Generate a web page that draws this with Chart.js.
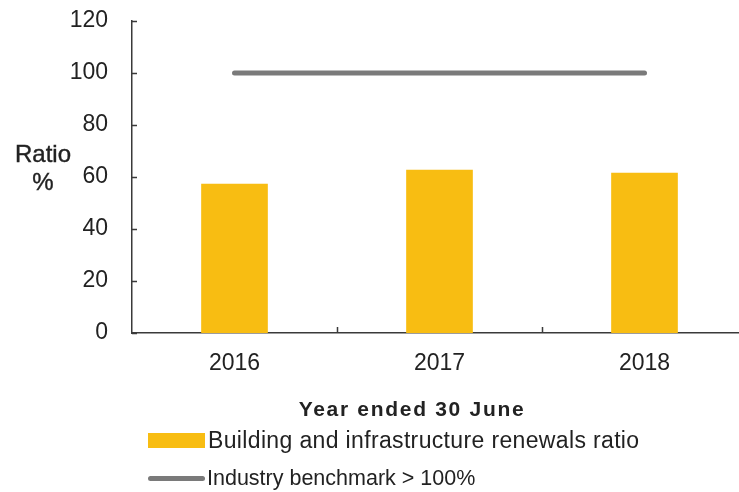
<!DOCTYPE html>
<html>
<head>
<meta charset="utf-8">
<script src="https://cdn.jsdelivr.net/npm/chart.js@4.4.1/dist/chart.umd.min.js"></script>
<style>
  html, body { margin: 0; padding: 0; background: #fff; overflow: hidden; }
  body { width: 739px; height: 492px; position: relative; font-family: "Liberation Sans", Arial, sans-serif; color: #222; }
  #wrap { position: absolute; left: 0; top: 0; width: 760px; height: 492px; }
  .txt { position: absolute; white-space: nowrap; line-height: 1; }
  #ytitle { left: 12px; top: 140px; font-size: 24px; text-align: center; width: 62px; line-height: 28px; -webkit-text-stroke: 0.4px #222; }
  #xtitle { left: 0; width: 824px; top: 398px; font-size: 21px; font-weight: bold; text-align: center; letter-spacing: 1.7px; }
  .leg { position: absolute; left: 148px; height: 24px; display: flex; align-items: center; }
  .sw-bar { width: 57px; height: 15px; background: #F8BD12; margin-right: 3px; }
  .sw-line { width: 57px; height: 5px; background: #7a7a7a; border-radius: 3px; margin-right: 2px; }
</style>
</head>
<body>
<div id="wrap"><canvas id="c"></canvas></div>
<div class="txt" id="ytitle">Ratio<br>%</div>
<div class="txt" id="xtitle">Year ended 30 June</div>
<div class="leg" style="top:428px; font-size:23px; letter-spacing:0.35px;"><span class="sw-bar"></span><span id="lg1"></span></div>
<div class="leg" style="top:466px; font-size:21.5px;"><span class="sw-line"></span><span id="lg2"></span></div>
<script>
// Years on the category axis
const years = ['2016', '2017', '2018'];
// Building and infrastructure renewals ratio (%)
const renewalsRatio = [57.3, 62.7, 61.5];
// Industry benchmark (%)
const benchmark = [100, 100, 100];
// Value axis ticks
const yTicks = [0, 20, 40, 60, 80, 100, 120];

const seriesNames = ['Building and infrastructure renewals ratio', 'Industry benchmark > 100%'];
document.getElementById('lg1').textContent = seriesNames[0];
document.getElementById('lg2').textContent = seriesNames[1];

const axisColor = '#3a3a3a';
const tickFont = { family: '"Liberation Sans", Arial, sans-serif', size: 23 };

// Short inward tick marks on both axes
const innerTicks = {
  id: 'innerTicks',
  afterDraw(chart) {
    const { ctx, chartArea, scales } = chart;
    const x = scales.x, y = scales.y;
    ctx.save();
    ctx.strokeStyle = axisColor;
    ctx.lineWidth = 1.5;
    ctx.beginPath();
    yTicks.forEach(v => {
      const py = Math.round(y.getPixelForValue(v)) + 0.5;
      ctx.moveTo(chartArea.left, py);
      ctx.lineTo(chartArea.left + 5, py);
    });
    for (let i = 1; i < years.length; i++) {
      const px = Math.round((x.getPixelForValue(i - 1) + x.getPixelForValue(i)) / 2) + 0.5;
      ctx.moveTo(px, chartArea.bottom);
      ctx.lineTo(px, chartArea.bottom - 6);
    }
    ctx.stroke();
    ctx.restore();
  }
};

new Chart(document.getElementById('c'), {
  data: {
    labels: years,
    datasets: [
      {
        type: 'line',
        label: seriesNames[1],
        data: benchmark,
        borderColor: '#7a7a7a',
        borderWidth: 5,
        borderCapStyle: 'round',
        pointRadius: 0,
        order: 0
      },
      {
        type: 'bar',
        label: seriesNames[0],
        data: renewalsRatio,
        backgroundColor: '#F8BD12',
        borderWidth: 0,
        barThickness: 66,
        order: 1
      }
    ]
  },
  plugins: [innerTicks],
  options: {
    responsive: true,
    maintainAspectRatio: false,
    animation: false,
    layout: { padding: { left: 0, right: 13, top: 21, bottom: 0 } },
    plugins: { legend: { display: false }, tooltip: { enabled: false } },
    scales: {
      x: {
        offset: true,
        grid: { display: false, drawTicks: false },
        border: { display: true, color: axisColor, width: 1.5 },
        ticks: { color: '#222', font: tickFont, padding: 17 },
        afterFit(scale) { scale.height = 159; scale.paddingLeft = 0; scale.paddingRight = 0; }
      },
      y: {
        min: 0,
        max: 120,
        afterBuildTicks(scale) { scale.ticks = yTicks.map(v => ({ value: v })); },
        grid: { display: false, drawTicks: false },
        border: { display: true, color: axisColor, width: 1.5 },
        ticks: { color: '#222', font: tickFont, padding: 24 },
        afterFit(scale) { scale.width = 132; scale.paddingTop = 0; scale.paddingBottom = 0; }
      }
    }
  }
});
</script>
</body>
</html>
